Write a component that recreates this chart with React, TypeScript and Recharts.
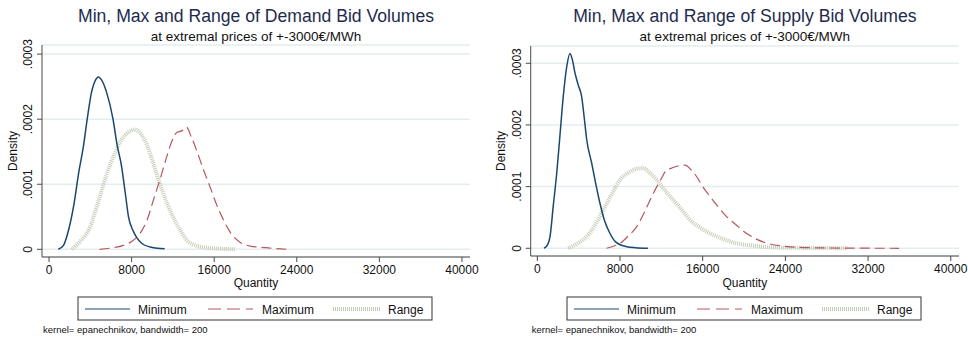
import React from "react";
import { LineChart, Line, XAxis, YAxis, CartesianGrid } from "recharts";

// ---------- data ----------
const xTicks = [0, 8000, 16000, 24000, 32000, 40000];
const yTicks = [0, 0.0001, 0.0002, 0.0003];
const yTickLabels = ["0", ".0001", ".0002", ".0003"];
const seriesNames = ["Minimum", "Maximum", "Range"];
const panelTitles = [
  "Min, Max and Range of Demand Bid Volumes",
  "Min, Max and Range of Supply Bid Volumes",
];
const subtitle = "at extremal prices of +-3000€/MWh";
const noteText = "kernel= epanechnikov, bandwidth= 200";
const xTitle = "Quantity";
const yTitle = "Density";

// Demand
const demandMinQ = [900, 1400, 1900, 2400, 2900, 3300, 3700, 4100, 4500, 4780, 5100, 5600, 6200, 6600, 7000, 7400, 7700, 8100, 8500, 9000, 9800, 10500, 11200];
const demandMinD = [0, 0.000006, 0.00003, 0.000068, 0.00012, 0.000155, 0.0002, 0.00024, 0.00026, 0.000265, 0.00026, 0.00024, 0.0002, 0.00016, 0.00013, 0.000085, 0.00005, 0.00003, 0.000018, 0.000009, 0.0000035, 0.0000015, 0.000001];

const demandMaxQ = [4900, 6000, 7200, 8000, 8800, 9500, 10100, 10800, 11400, 11900, 12400, 12850, 13300, 13800, 14300, 14900, 15600, 16200, 16900, 17600, 18500, 19500, 21000, 22000, 23200];
const demandMaxD = [0, 0.000002, 0.000006, 0.000012, 0.000024, 0.000045, 0.000075, 0.00011, 0.000142, 0.000166, 0.00018, 0.000182, 0.000188, 0.000172, 0.000152, 0.000125, 0.000096, 0.00007, 0.000045, 0.000025, 0.000011, 0.000005, 0.0000025, 0.000001, 0];

const demandRangeQ = [2200, 3000, 3970, 4800, 5600, 6300, 7000, 7700, 8300, 8900, 9500, 10100, 10750, 11400, 12000, 12700, 13300, 14200, 15200, 16500, 18000];
const demandRangeD = [0, 0.000012, 0.000034, 0.000075, 0.000116, 0.000145, 0.000168, 0.00018, 0.000184, 0.000177, 0.00016, 0.000132, 0.0001, 0.000072, 0.00005, 0.00003, 0.000015, 0.000006, 0.0000025, 0.000001, 0];

// Supply
const supplyMinQ = [650, 1000, 1230, 1550, 1880, 2200, 2510, 2850, 3160, 3400, 3650, 3950, 4290, 4550, 4780, 5260, 5650, 6060, 6500, 7030, 7600, 8650, 9500, 10700];
const supplyMinD = [0, 0.000006, 0.000019, 0.00007, 0.000122, 0.000185, 0.000246, 0.000295, 0.000316, 0.000305, 0.000284, 0.000265, 0.000246, 0.00021, 0.000176, 0.000138, 0.000105, 0.000073, 0.000045, 0.000024, 0.00001, 0.0000026, 0.000001, 0];

const supplyMaxQ = [6700, 7300, 8000, 8800, 9620, 10400, 11220, 11900, 12520, 13000, 13490, 14290, 14900, 15420, 16000, 16710, 17500, 18330, 19300, 20260, 21300, 22510, 23800, 25090, 27000, 30000, 35000];
const supplyMaxD = [0, 0.000003, 0.000008, 0.00002, 0.000035, 0.00006, 0.000089, 0.00011, 0.000127, 0.00013, 0.000133, 0.000135, 0.000127, 0.000116, 0.0001, 0.000084, 0.000067, 0.000051, 0.000037, 0.000024, 0.000014, 0.000007, 0.0000035, 0.0000016, 0.0000008, 0.0000003, 0];

const supplyRangeQ = [3000, 3900, 4780, 5600, 6380, 7200, 8000, 8970, 9600, 10250, 10900, 11550, 12300, 13160, 14000, 14770, 15700, 16710, 18000, 19290, 20800, 22500, 25000, 27500, 30000];
const supplyRangeD = [0, 0.000008, 0.000019, 0.000038, 0.000062, 0.000088, 0.000111, 0.000124, 0.000129, 0.00013, 0.000122, 0.000111, 0.000095, 0.000078, 0.000062, 0.000046, 0.000034, 0.000024, 0.000015, 0.000008, 0.0000045, 0.0000016, 0.0000008, 0.0000004, 0];

// ---------- helpers ----------
const zip = (q: number[], d: number[]) => q.map((v, i) => ({ q: v, d: d[i] }));

const FONT = "'Liberation Sans', Arial, Helvetica, sans-serif";
const COL_MIN = "#1a476f";
const COL_MAX = "#b5575e";
const COL_RANGE = "#c4cdb5";
const AXIS = "#4a4a4a";

type PanelProps = {
  left: number;
  title: string;
  minData: { q: number; d: number }[];
  maxData: { q: number; d: number }[];
  rangeData: { q: number; d: number }[];
  plotLeft: number;
  plotRight: number;
  plotTop: number;
  plotBottom: number;
  xDomain: [number, number];
  yDomain: [number, number];
  legendLeft: number;
  densityX: number;
};

const W = 484;
const H = 340;
const YAXW = 34;
const XAXH = 30;

function XTick(props: any) {
  const { x, y, payload } = props;
  return (
    <text x={x} y={y + 10} textAnchor="middle" fontSize={12} fontFamily={FONT} fill="#111">
      {String(payload.value)}
    </text>
  );
}

function YTick(props: any) {
  const { x, y, payload } = props;
  const idx = yTicks.indexOf(payload.value);
  const label = idx >= 0 ? yTickLabels[idx] : String(payload.value);
  const tx = x - 2.5;
  return (
    <text
      x={tx}
      y={y}
      textAnchor="middle"
      transform={`rotate(-90 ${tx} ${y})`}
      fontSize={12}
      fontFamily={FONT}
      fill="#111"
    >
      {label}
    </text>
  );
}

function Panel(p: PanelProps) {
  const cx = (p.plotLeft + p.plotRight) / 2;
  const cy = (p.plotTop + p.plotBottom) / 2;
  const lx = p.legendLeft;
  return (
    <div style={{ position: "absolute", left: p.left, top: 0, width: W, height: H }}>
      <LineChart
        width={W}
        height={H}
        margin={{
          top: p.plotTop,
          left: p.plotLeft - YAXW,
          right: W - p.plotRight,
          bottom: H - p.plotBottom - XAXH,
        }}
      >
        <CartesianGrid vertical={false} stroke="#e3edef" strokeWidth={1.5} />
        <XAxis
          type="number"
          dataKey="q"
          domain={p.xDomain}
          ticks={xTicks}
          allowDataOverflow
          height={XAXH}
          tickSize={5}
          tickLine={{ stroke: AXIS }}
          axisLine={{ stroke: AXIS, strokeWidth: 1 }}
          tick={<XTick />}
          interval={0}
        />
        <YAxis
          type="number"
          dataKey="d"
          domain={p.yDomain}
          ticks={yTicks}
          allowDataOverflow
          width={YAXW}
          tickSize={5}
          tickLine={{ stroke: AXIS }}
          axisLine={{ stroke: AXIS, strokeWidth: 1 }}
          tick={<YTick />}
          interval={0}
        />
        <Line
          data={p.rangeData}
          dataKey="d"
          type="monotone"
          stroke={COL_RANGE}
          strokeWidth={4}
          strokeDasharray="1 1"
          dot={false}
          isAnimationActive={false}
        />
        <Line
          data={p.maxData}
          dataKey="d"
          type="monotone"
          stroke={COL_MAX}
          strokeWidth={1.2}
          strokeDasharray="10 5"
          dot={false}
          isAnimationActive={false}
        />
        <Line
          data={p.minData}
          dataKey="d"
          type="monotone"
          stroke={COL_MIN}
          strokeWidth={1.5}
          dot={false}
          isAnimationActive={false}
        />
      </LineChart>
      <svg
        width={W}
        height={H}
        style={{ position: "absolute", left: 0, top: 0, pointerEvents: "none" }}
      >
        <text x={cx} y={22} textAnchor="middle" fontSize={17.6} fontFamily={FONT} fill="#1e2b4d">
          {p.title}
        </text>
        <text x={cx} y={41} textAnchor="middle" fontSize={13.5} fontFamily={FONT} fill="#111">
          {subtitle}
        </text>
        <text
          x={p.densityX}
          y={cy}
          textAnchor="middle"
          transform={`rotate(-90 ${p.densityX} ${cy})`}
          fontSize={12}
          fontFamily={FONT}
          fill="#111"
        >
          {yTitle}
        </text>
        <text x={cx} y={287} textAnchor="middle" fontSize={12} fontFamily={FONT} fill="#111">
          {xTitle}
        </text>
        {/* legend */}
        <rect x={lx} y={297} width={354} height={23} fill="#fff" stroke="#333" strokeWidth={1} />
        <line x1={lx + 7} x2={lx + 52} y1={309} y2={309} stroke={COL_MIN} strokeWidth={1.2} />
        <text x={lx + 60} y={313.5} fontSize={12} fontFamily={FONT} fill="#111">
          {seriesNames[0]}
        </text>
        <line
          x1={lx + 130}
          x2={lx + 175}
          y1={309}
          y2={309}
          stroke={COL_MAX}
          strokeWidth={1.2}
          strokeDasharray="13 6"
        />
        <text x={lx + 184} y={313.5} fontSize={12} fontFamily={FONT} fill="#111">
          {seriesNames[1]}
        </text>
        <line
          x1={lx + 255}
          x2={lx + 302}
          y1={309}
          y2={309}
          stroke={COL_RANGE}
          strokeWidth={4}
          strokeDasharray="1 1"
        />
        <text x={lx + 310} y={313.5} fontSize={12} fontFamily={FONT} fill="#111">
          {seriesNames[2]}
        </text>
        <text x={p.plotLeft + 1} y={333} fontSize={9.5} fontFamily={FONT} fill="#111">
          {noteText}
        </text>
      </svg>
    </div>
  );
}

export default function App() {
  return (
    <div style={{ position: "absolute", left: 0, top: 0, width: 968, height: 340, background: "#fff" }}>
      <Panel
        left={0}
        title={panelTitles[0]}
        minData={zip(demandMinQ, demandMinD)}
        maxData={zip(demandMaxQ, demandMaxD)}
        rangeData={zip(demandRangeQ, demandRangeD)}
        plotLeft={42}
        plotRight={470}
        plotTop={45}
        plotBottom={257}
        xDomain={[-680, 40780]}
        yDomain={[-0.0000118, 0.000314]}
        legendLeft={78}
        densityX={17}
      />
      <Panel
        left={484}
        title={panelTitles[1]}
        minData={zip(supplyMinQ, supplyMinD)}
        maxData={zip(supplyMaxQ, supplyMaxD)}
        rangeData={zip(supplyRangeQ, supplyRangeD)}
        plotLeft={46.7}
        plotRight={475}
        plotTop={46}
        plotBottom={256}
        xDomain={[-640, 40795]}
        yDomain={[-0.0000125, 0.000328]}
        legendLeft={83}
        densityX={21}
      />
    </div>
  );
}
